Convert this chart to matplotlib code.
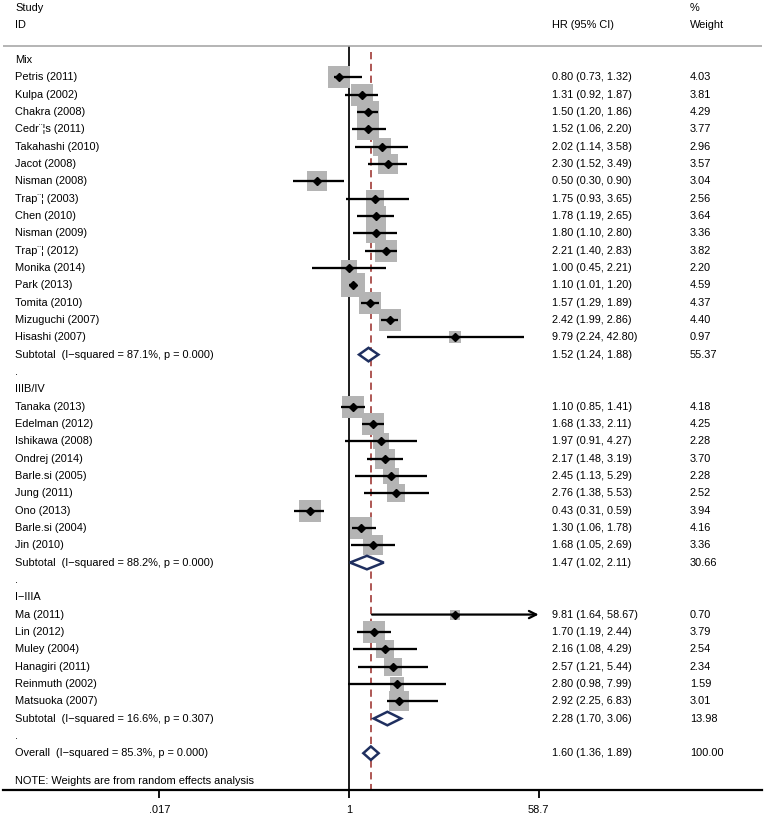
import numpy as np
import matplotlib
matplotlib.use('Agg')
import matplotlib.pyplot as plt
from matplotlib.patches import Polygon
from matplotlib.ticker import NullLocator

plt.rcParams['font.family'] = ['Liberation Sans', 'DejaVu Sans']

# ---------------- data ----------------
group_names = ['Mix', 'IIIB/IV', 'I\u2212IIIA']

mix_studies = ['Petris (2011)', 'Kulpa (2002)', 'Chakra (2008)', 'Cedr\u00a8\u00a6s (2011)',
               'Takahashi (2010)', 'Jacot (2008)', 'Nisman (2008)', 'Trap\u00a8\u00a6 (2003)',
               'Chen (2010)', 'Nisman (2009)', 'Trap\u00a8\u00a6 (2012)', 'Monika (2014)',
               'Park (2013)', 'Tomita (2010)', 'Mizuguchi (2007)', 'Hisashi (2007)']
mix_hr = [0.80, 1.31, 1.50, 1.52, 2.02, 2.30, 0.50, 1.75, 1.78, 1.80, 2.21, 1.00, 1.10, 1.57, 2.42, 9.79]
mix_lo = [0.73, 0.92, 1.20, 1.06, 1.14, 1.52, 0.30, 0.93, 1.19, 1.10, 1.40, 0.45, 1.01, 1.29, 1.99, 2.24]
mix_hi = [1.32, 1.87, 1.86, 2.20, 3.58, 3.49, 0.90, 3.65, 2.65, 2.80, 2.83, 2.21, 1.20, 1.89, 2.86, 42.80]
mix_w = [4.03, 3.81, 4.29, 3.77, 2.96, 3.57, 3.04, 2.56, 3.64, 3.36, 3.82, 2.20, 4.59, 4.37, 4.40, 0.97]

st_studies = ['Tanaka (2013)', 'Edelman (2012)', 'Ishikawa (2008)', 'Ondrej (2014)',
              'Barle.si (2005)', 'Jung (2011)', 'Ono (2013)', 'Barle.si (2004)', 'Jin (2010)']
st_hr = [1.10, 1.68, 1.97, 2.17, 2.45, 2.76, 0.43, 1.30, 1.68]
st_lo = [0.85, 1.33, 0.91, 1.48, 1.13, 1.38, 0.31, 1.06, 1.05]
st_hi = [1.41, 2.11, 4.27, 3.19, 5.29, 5.53, 0.59, 1.78, 2.69]
st_w = [4.18, 4.25, 2.28, 3.70, 2.28, 2.52, 3.94, 4.16, 3.36]

ea_studies = ['Ma (2011)', 'Lin (2012)', 'Muley (2004)', 'Hanagiri (2011)',
              'Reinmuth (2002)', 'Matsuoka (2007)']
ea_hr = [9.81, 1.70, 2.16, 2.57, 2.80, 2.92]
ea_lo = [1.64, 1.19, 1.08, 1.21, 0.98, 2.25]
ea_hi = [58.67, 2.44, 4.29, 5.44, 7.99, 6.83]
ea_w = [0.70, 3.79, 2.54, 2.34, 1.59, 3.01]

sub_hr = [1.52, 1.47, 2.28]
sub_lo = [1.24, 1.02, 1.70]
sub_hi = [1.88, 2.11, 3.06]
sub_w = [55.37, 30.66, 13.98]
sub_i2 = ['87.1%', '88.2%', '16.6%']
sub_p = ['0.000', '0.000', '0.307']

overall_hr, overall_lo, overall_hi, overall_w = 1.60, 1.36, 1.89, 100.00
overall_i2, overall_p = '85.3%', '0.000'

tick_values = [0.017, 1, 58.7]
tick_labels = ['.017', '1', '58.7']

# ---------------- layout ----------------
W, H = 765, 818
fig = plt.figure(figsize=(W / 100, H / 100), dpi=100)
ax = fig.add_axes([3 / W, 28 / H, 759 / W, 790 / H])
ax.set_xscale('log')
x1px, kpx = 349.0, 46.56


def px2val(px):
    return np.exp((px - x1px) / kpx)


ax.set_xlim(px2val(3), px2val(762))
row0, dy = 60.0, 17.33
ybot = (790 - row0) / dy
ax.set_ylim(ybot, (0 - row0) / dy)

tr = ax.get_yaxis_transform()


def fx(px):
    return (px - 3) / 759.0


FS = 7.9
NARROW = ['Liberation Sans Narrow', 'Liberation Sans', 'DejaVu Sans']
LBL_X, HR_X, W_X = 15, 552, 690
BOX_C = '#b4b4b4'
DIA_C = '#1f2f5f'


def txt(px, row, s, family=None, size=FS):
    kw = {}
    if family:
        kw['family'] = family
    ax.text(fx(px), row, s, transform=tr, ha='left', va='center', fontsize=size, **kw)


# headers
txt(LBL_X, -3, 'Study')
txt(LBL_X, -2, 'ID')
txt(HR_X, -2, 'HR (95% CI)')
txt(W_X, -3, '%')
txt(W_X, -2, 'Weight')
ax.axhline(-0.83, color='#a0a0a0', lw=1.1)

groups = [
    (mix_studies, mix_hr, mix_lo, mix_hi, mix_w),
    (st_studies, st_hr, st_lo, st_hi, st_w),
    (ea_studies, ea_hr, ea_lo, ea_hi, ea_w),
]

xmax_axis = tick_values[-1]


def draw_diamond(row, hr, lo, hi):
    h = 0.39
    poly = Polygon([(lo, row), (hr, row - h), (hi, row), (hr, row + h)], closed=True,
                   facecolor='white', edgecolor=DIA_C, lw=1.8, zorder=4, joinstyle='miter')
    ax.add_patch(poly)


row = 0
for gi, (names, hrs, los, his, ws) in enumerate(groups):
    txt(LBL_X, row, group_names[gi])
    row += 1
    for n, hr, lo, hi, w in zip(names, hrs, los, his, ws):
        side_px = 2.15 + 9.74 * np.sqrt(w)
        ax.scatter([hr], [row], marker='s', s=(side_px * 0.72) ** 2, color=BOX_C,
                   linewidths=0, zorder=2)
        if hi >= 0.99 * xmax_axis:
            ax.annotate('', xy=(xmax_axis, row), xytext=(lo, row),
                        arrowprops=dict(arrowstyle='->', lw=1.6, color='black',
                                        mutation_scale=13, shrinkA=0, shrinkB=0),
                        zorder=3)
        else:
            ax.plot([lo, hi], [row, row], color='black', lw=1.65, zorder=3,
                    solid_capstyle='butt')
        ax.plot([hr], [row], marker='D', ms=4.3, color='black', zorder=5)
        txt(LBL_X, row, n)
        txt(HR_X, row, f'{hr:.2f} ({lo:.2f}, {hi:.2f})', family=NARROW, size=7.8)
        txt(W_X, row, f'{w:.2f}')
        row += 1
    draw_diamond(row, sub_hr[gi], sub_lo[gi], sub_hi[gi])
    txt(LBL_X, row, f'Subtotal  (I\u2212squared = {sub_i2[gi]}, p = {sub_p[gi]})')
    txt(HR_X, row, f'{sub_hr[gi]:.2f} ({sub_lo[gi]:.2f}, {sub_hi[gi]:.2f})', family=NARROW, size=7.8)
    txt(W_X, row, f'{sub_w[gi]:.2f}')
    row += 1
    txt(LBL_X, row, '.')
    row += 1

# overall
draw_diamond(row, overall_hr, overall_lo, overall_hi)
txt(LBL_X, row, f'Overall  (I\u2212squared = {overall_i2}, p = {overall_p})')
txt(HR_X, row, f'{overall_hr:.2f} ({overall_lo:.2f}, {overall_hi:.2f})', family=NARROW, size=7.8)
txt(W_X, row, f'{overall_w:.2f}')
txt(LBL_X, row + 1.6, 'NOTE: Weights are from random effects analysis')

# reference lines
ax.plot([1, 1], [-0.75, ybot], color='black', lw=1.25, zorder=1)
ax.plot([overall_hr, overall_hr], [-0.45, ybot], color='#a5433f', lw=1.25,
        dashes=(4.2, 2.6), zorder=1)

# axis
for s in ['top', 'left', 'right']:
    ax.spines[s].set_visible(False)
ax.spines['bottom'].set_linewidth(1.6)
ax.set_yticks([])
ax.set_xticks(tick_values)
ax.set_xticklabels(tick_labels)
ax.xaxis.set_minor_locator(NullLocator())
ax.tick_params(axis='x', which='major', length=5.8, width=1.3, labelsize=FS, pad=5)

fig.savefig('out.png', dpi=100)
